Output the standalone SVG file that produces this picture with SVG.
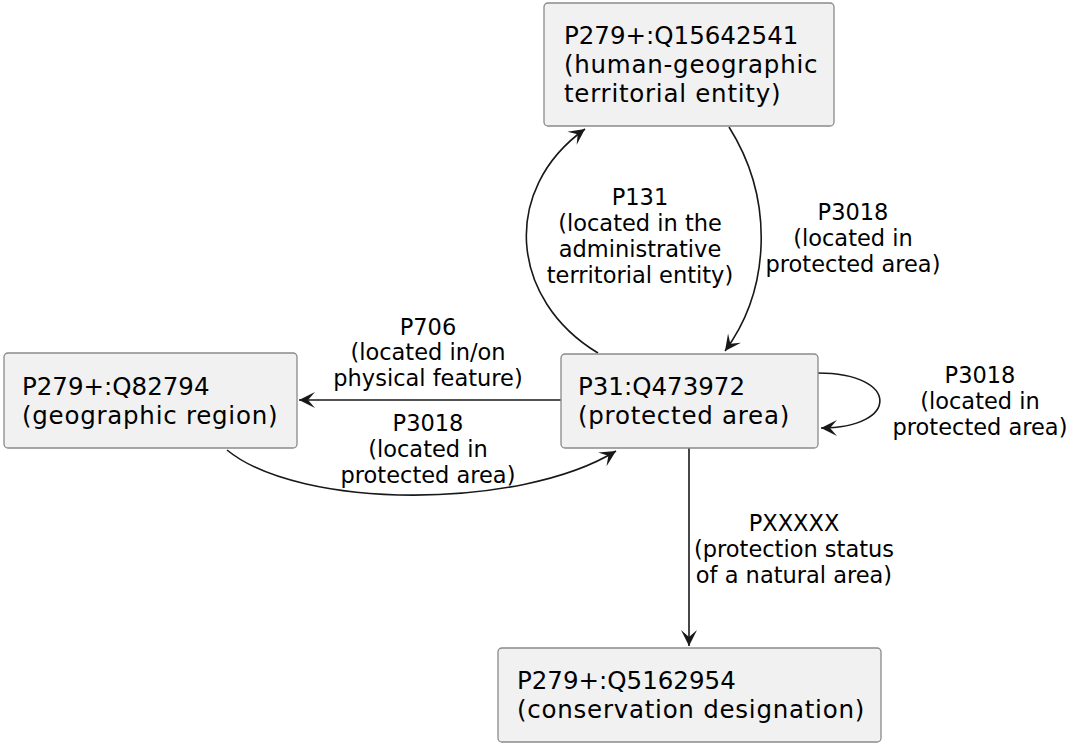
<svg xmlns="http://www.w3.org/2000/svg" width="1077" height="744" viewBox="0 0 1077 744">
<style>
.node rect{fill:#F1F1F1;stroke:#8a8a8a;stroke-width:1.3}
.nt{font-family:"DejaVu Sans",sans-serif;font-size:24.5px;fill:#000}
.lw{letter-spacing:0.75px}
.el{font-family:"DejaVu Sans",sans-serif;font-size:22.5px;fill:#000;text-anchor:middle}
.edge{fill:none;stroke:#181818;stroke-width:1.6;marker-end:url(#ah)}
</style>
<defs>
<marker id="ah" viewBox="-18 -10 20 20" markerWidth="20" markerHeight="20" refX="0" refY="0" markerUnits="userSpaceOnUse" orient="auto">
<path d="M0,0 L-16,-8 L-9,0 L-16,8 Z" fill="#181818"/>
</marker>
</defs>
<rect width="1077" height="744" fill="#fff"/>
<g id="connectors">
<path id="e1" class="edge" d="M598,353 C510,300 500,190 585,129"/>
<path id="e2" class="edge" d="M729,127 C775,200 770,290 725,351"/>
<path id="e3" class="edge" d="M561,400 L299,400"/>
<path id="e4" class="edge" d="M227,450 C300,510 520,510 616,451"/>
<path id="e5" class="edge" d="M818,373 C900,373 900,428 821,428"/>
<path id="e6" class="edge" d="M689,448 L689,646"/>
<text class="el" x="640" y="205">P131</text>
<text class="el" x="640" y="231">(located in the</text>
<text class="el" x="640" y="257">administrative</text>
<text class="el" x="640" y="283">territorial entity)</text>
<text class="el" x="853" y="220">P3018</text>
<text class="el" x="853" y="246">(located in</text>
<text class="el" x="853" y="272">protected area)</text>
<text class="el" x="428" y="335">P706</text>
<text class="el" x="428" y="360">(located in/on</text>
<text class="el" x="428" y="386">physical feature)</text>
<text class="el" x="428" y="431">P3018</text>
<text class="el" x="428" y="457">(located in</text>
<text class="el" x="428" y="483">protected area)</text>
<text class="el" x="980" y="383">P3018</text>
<text class="el" x="980" y="409">(located in</text>
<text class="el" x="980" y="435">protected area)</text>
<text class="el" x="794" y="531">PXXXXX</text>
<text class="el" x="794" y="557">(protection status</text>
<text class="el" x="794" y="583">of a natural area)</text>
</g>
<g id="nodeA" class="node">
<rect x="544" y="3" width="290" height="123" rx="4"/>
<text class="nt" x="564" y="44">P279+:Q15642541</text>
<text class="nt lw" x="564" y="73">(human-geographic</text>
<text class="nt lw" x="564" y="102">territorial entity)</text>
</g>
<g id="nodeB" class="node">
<rect x="4" y="353" width="293" height="95" rx="4"/>
<text class="nt" x="22" y="395">P279+:Q82794</text>
<text class="nt lw" x="22" y="424">(geographic region)</text>
</g>
<g id="nodeC" class="node">
<rect x="561" y="354" width="257" height="94" rx="4"/>
<text class="nt" x="578" y="395">P31:Q473972</text>
<text class="nt lw" x="578" y="424">(protected area)</text>
</g>
<g id="nodeD" class="node">
<rect x="498" y="648" width="383" height="94" rx="4"/>
<text class="nt" x="517" y="689">P279+:Q5162954</text>
<text class="nt lw" x="517" y="718">(conservation designation)</text>
</g>
</svg>
